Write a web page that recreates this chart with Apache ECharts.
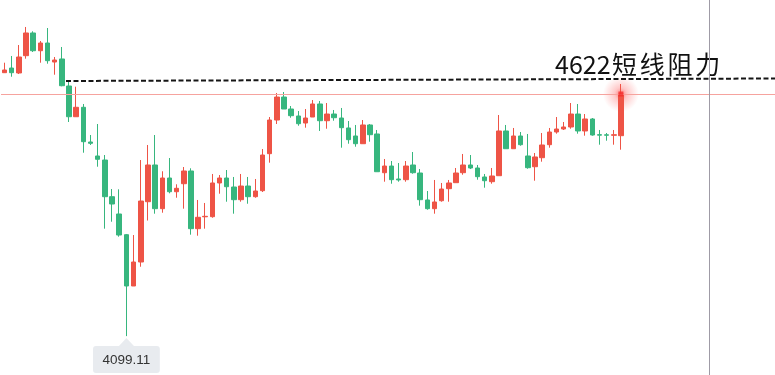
<!DOCTYPE html>
<html><head><meta charset="utf-8">
<script src="https://cdn.jsdelivr.net/npm/echarts@6/dist/echarts.min.js"></script>
<style>html,body{margin:0;padding:0;background:#fff}#c{width:775px;height:375px}</style>
</head><body><div id="c"></div>
<script>
const opens = [4635.1,4644.6,4634.5,4669.7,4715.9,4679.8,4695.5,4656.8,4663.0,4608.0,
4545.5,4564.7,4494.1,4465.6,4457.4,4382.8,4347.6,4305.5,4201.1,4249.9,
4372.6,4447.3,4358.4,4420.8,4392.9,4409.2,4435.1,4317.7,4341.9,4342.1,
4410.7,4420.8,4402.5,4376.7,4404.5,4382.8,4395.0,4470.3,4538.8,4585.6,
4561.2,4547.0,4532.7,4544.9,4571.4,4537.4,4551.0,4542.9,4522.6,4506.3,
4490.6,4528.7,4510.4,4431.6,4445.2,4418.8,4417.4,4447.3,4431.0,4376.1,
4358.4,4374.6,4399.1,4411.3,4431.6,4447.3,4441.2,4422.9,4413.3,4425.5,
4516.5,4480.4,4506.3,4465.6,4443.8,4462.1,4488.6,4514.4,4520.5,4524.6,
4551.0,4516.5,4540.9,4509.0,4508.7,4507.7,4506.9];
const closes = [4640.6,4635.1,4667.0,4715.9,4679.8,4695.5,4659.5,4660.9,4608.6,4545.5,
4564.7,4494.7,4491.4,4458.9,4382.8,4367.9,4304.8,4201.1,4249.9,4374.0,
4447.3,4358.4,4420.8,4392.9,4399.9,4435.1,4317.7,4340.9,4342.9,4410.7,
4420.8,4403.1,4376.7,4404.5,4382.8,4394.4,4467.6,4538.8,4585.6,4561.2,
4547.6,4531.3,4542.9,4571.4,4537.4,4551.0,4543.5,4523.2,4498.8,4490.6,
4528.7,4508.9,4433.6,4445.2,4417.4,4416.8,4445.2,4431.6,4376.7,4358.4,
4372.0,4398.4,4410.7,4431.0,4447.3,4441.2,4423.5,4415.3,4424.9,4516.5,
4480.4,4506.3,4488.6,4441.8,4463.6,4488.0,4514.4,4520.5,4524.6,4551.0,
4516.5,4540.9,4508.3,4508.0,4507.9,4508.9,4591.7];
const lows = [4634.5,4626.9,4632.4,4663.6,4677.2,4655.4,4653.4,4631.0,4607.4,4534.8,
4545.5,4472.3,4488.0,4443.8,4317.7,4331.9,4301.4,4099.11,4201.1,4240.3,
4334.3,4348.2,4350.2,4389.7,4380.7,4358.4,4305.5,4303.4,4317.7,4340.0,
4388.9,4372.6,4348.2,4372.6,4368.5,4380.7,4392.3,4452.0,4530.7,4561.2,
4543.5,4527.2,4523.2,4544.9,4516.5,4521.1,4537.4,4482.5,4490.6,4484.5,
4490.6,4494.7,4433.6,4413.3,4409.2,4413.3,4413.3,4429.6,4364.5,4356.3,
4348.2,4372.6,4372.6,4411.3,4427.5,4439.1,4417.4,4401.1,4409.2,4425.5,
4480.4,4480.4,4486.5,4439.7,4415.3,4454.0,4482.5,4511.0,4518.5,4521.1,
4511.0,4506.9,4506.9,4488.6,4496.7,4488.6,4478.4];
const highs = [4655.4,4669.1,4691.4,4728.1,4719.3,4699.6,4726.0,4667.0,4687.4,4618.2,
4606.6,4571.4,4508.3,4530.7,4467.6,4398.4,4397.8,4306.9,4304.8,4457.4,
4488.0,4508.3,4434.5,4461.5,4408.0,4443.2,4440.6,4376.1,4370.0,4429.0,
4426.9,4437.1,4422.9,4429.0,4422.9,4418.8,4479.8,4544.9,4593.8,4595.8,
4567.3,4557.1,4561.2,4579.5,4577.5,4573.4,4559.2,4563.3,4536.8,4528.7,
4538.8,4530.7,4518.5,4459.5,4455.4,4451.3,4455.4,4473.7,4439.1,4394.4,
4416.8,4410.7,4416.8,4441.2,4469.7,4467.6,4447.3,4429.0,4441.2,4549.0,
4528.7,4522.6,4514.4,4510.4,4471.7,4512.4,4522.6,4544.9,4534.8,4573.4,
4571.4,4551.0,4542.9,4518.5,4512.4,4518.5,4612.1];
const slotCount = 108;
const lowIndex = 17;
const lowLabel = 4099.11;
const resistanceStart = [9.07, 4618.2];
const resistanceEnd = [108, 4623.3];
const markerX = 98.79;

const categories = Array.from({length: slotCount}, (_, i) => String(i + 1));
const ohlc = opens.map((o, i) => [o, closes[i], lows[i], highs[i]]);
const lastIdx = closes.length - 1;
const lastClose = closes[lastIdx];
const UP = '#ee5446', DOWN = '#37b67e';

const chart = echarts.init(document.getElementById('c'), null, {renderer: 'canvas'});
chart.setOption({
  animation: false,
  backgroundColor: '#ffffff',
  grid: {left: 1, right: 0, top: 0, bottom: 0},
  xAxis: [
    {type: 'category', data: categories, show: false, boundaryGap: true},
    {type: 'value', min: 0, max: slotCount, show: false}
  ],
  yAxis: {type: 'value', min: 4020, max: 4783, show: false},
  series: [
    {
      type: 'candlestick', data: ohlc, barWidth: 5,
      itemStyle: {color: UP, color0: DOWN, borderColor: UP, borderColor0: DOWN, borderWidth: 1},
      markLine: {
        silent: true, symbol: ['none', 'none'], animation: false,
        data: [{yAxis: lastClose, lineStyle: {color: '#f6a39e', width: 1, type: 'solid'}, label: {show: false}}]
      },
      markPoint: {
        silent: true, animation: false,
        data: [{
          coord: [lowIndex, lowLabel], value: lowLabel,
          symbol: 'triangle', symbolSize: [15, 8], symbolOffset: [0, 6],
          itemStyle: {color: '#e8ebef'},
          label: {
            show: true, position: 'bottom', distance: 0,
            formatter: '{c}', color: '#333', fontSize: 13.5, lineHeight: 14,
            fontFamily: 'Liberation Sans, Arial, sans-serif',
            backgroundColor: '#e8ebef', padding: [7, 9.5, 6, 9.5], borderRadius: 3
          }
        }]
      }
    },
    {
      type: 'line', xAxisIndex: 1, data: [], silent: true,
      markLine: {
        silent: true, symbol: ['none', 'none'], animation: false, label: {show: false},
        data: [
          [{coord: resistanceStart, lineStyle: {color: '#151515', width: 2, type: [5, 2.5]}}, {coord: resistanceEnd}],
          {xAxis: markerX, lineStyle: {color: '#9f9ba6', width: 1, type: 'solid'}}
        ]
      }
    },
    {
      type: 'scatter', xAxisIndex: 1, silent: true, z: 1,
      data: [[lastIdx + 0.5, lastClose]], symbol: 'circle', symbolSize: 36,
      itemStyle: {color: {type: 'radial', x: 0.5, y: 0.5, r: 0.5, colorStops: [
        {offset: 0, color: 'rgba(255,40,40,0.75)'},
        {offset: 0.35, color: 'rgba(255,60,60,0.35)'},
        {offset: 1, color: 'rgba(255,80,80,0)'}]}}
    },
    {
      type: 'scatter', xAxisIndex: 1, silent: true, z: 5,
      data: [[lastIdx + 0.5, lastClose]], symbol: 'rect', symbolSize: 5,
      itemStyle: {color: '#f52a2a'}
    }
  ],
  graphic: [{
    type: 'text', left: 555, top: 52, silent: true,
    style: {
      text: '{n|4622}{c|短}{c|线}{c|阻}{c|力}',
      rich: {
        n: {fontSize: 25, lineHeight: 26, fontFamily: 'Noto Sans CJK SC', fill: '#111', color: '#111'},
        c: {fontSize: 25, lineHeight: 26, fontFamily: 'Noto Sans CJK SC', fill: '#111', color: '#111', padding: [0, 1.4, 0, 1.4]}
      }
    }
  }]
});
</script></body></html>
